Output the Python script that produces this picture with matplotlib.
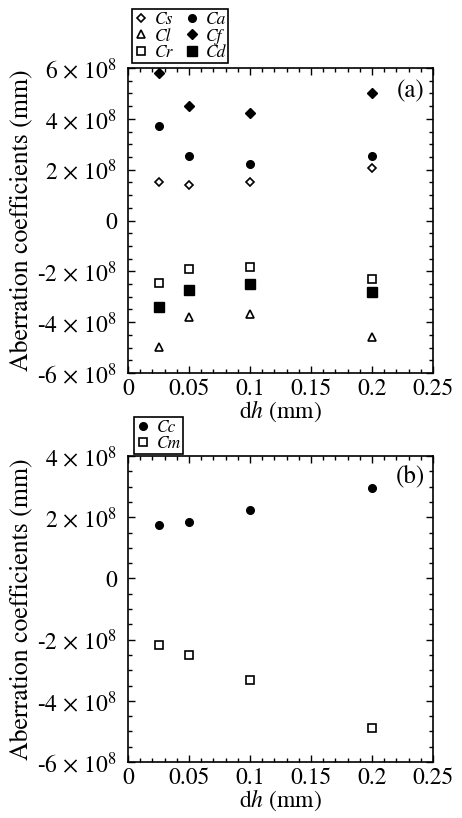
import matplotlib
matplotlib.use('Agg')
import matplotlib.pyplot as plt
from matplotlib.ticker import MultipleLocator, FuncFormatter

# Fonts: Times-like serif throughout (STIX ships with matplotlib)
plt.rcParams['font.family'] = 'serif'
plt.rcParams['font.serif'] = ['STIXGeneral', 'Liberation Serif', 'DejaVu Serif']
plt.rcParams['mathtext.fontset'] = 'stix'

# x positions (dh in mm)
dh = [0.025, 0.05, 0.1, 0.2]

# Panel (a) coefficients (units of 1e8 mm)
cs = [1.53, 1.40, 1.52, 2.07]
cl = [-4.97, -3.80, -3.68, -4.57]
cr = [-2.47, -1.91, -1.83, -2.29]
ca = [3.71, 2.54, 2.22, 2.55]
cf = [5.79, 4.52, 4.24, 5.03]
cd = [-3.41, -2.74, -2.49, -2.80]

# Panel (b) coefficients (units of 1e8 mm)
cc = [1.73, 1.84, 2.22, 2.95]
cm = [-2.17, -2.49, -3.31, -4.89]

fig = plt.figure(figsize=(4.62, 8.18), dpi=100)
W, H = 462.0, 818.0
ax1 = fig.add_axes([128 / W, 1 - 373 / H, 305 / W, 305 / H])
ax2 = fig.add_axes([128 / W, 1 - 762 / H, 305 / W, 306 / H])


def ytick_fmt(v, pos):
    n = int(round(v / 1e8))
    if n == 0:
        return '0'
    # plain hyphen like the original, mathtext only for the exponent
    return '%d \u00d7 10$^{8}$' % n


def style_axes(ax, ymin, ymax):
    ax.set_xlim(0, 0.25)
    ax.set_ylim(ymin, ymax)
    ax.xaxis.set_major_locator(MultipleLocator(0.05))
    ax.xaxis.set_minor_locator(MultipleLocator(0.01))
    ax.yaxis.set_major_locator(MultipleLocator(2e8))
    ax.yaxis.set_minor_locator(MultipleLocator(0.5e8))
    ax.xaxis.set_major_formatter(FuncFormatter(lambda v, p: '0' if v == 0 else ('%g' % round(v, 3))))
    ax.yaxis.set_major_formatter(FuncFormatter(ytick_fmt))
    ax.tick_params(which='both', direction='in', top=True, right=True, labelsize=17, width=1)
    ax.tick_params(which='major', length=5)
    ax.tick_params(which='minor', length=3)
    ax.tick_params(axis='x', pad=4)
    ax.tick_params(axis='y', pad=8)
    for s in ax.spines.values():
        s.set_linewidth(1.2)
    ax.set_xlabel(r'd$h$ (mm)', fontsize=17, labelpad=-1)
    ax.set_ylabel('Aberration coefficients (mm)', fontsize=18.5)
    ax.yaxis.set_label_coords(-0.31, 0.5)


def scaled(vals):
    return [v * 1e8 for v in vals]


# Panel (a)
ax1.plot(dh, scaled(cs), linestyle='none', marker='D', markersize=4.5, mfc='white', mec='black', mew=1.2, label='Cs')
ax1.plot(dh, scaled(cl), linestyle='none', marker='^', markersize=6, mfc='white', mec='black', mew=1.2, label='Cl')
ax1.plot(dh, scaled(cr), linestyle='none', marker='s', markersize=6, mfc='white', mec='black', mew=1.2, label='Cr')
ax1.plot(dh, scaled(ca), linestyle='none', marker='o', markersize=5.5, color='black', label='Ca')
ax1.plot(dh, scaled(cf), linestyle='none', marker='D', markersize=5, color='black', label='Cf')
ax1.plot(dh, scaled(cd), linestyle='none', marker='s', markersize=7, color='black', label='Cd')
style_axes(ax1, -6e8, 6e8)
ax1.text(0.925, 0.925, '(a)', transform=ax1.transAxes, fontsize=18, ha='center', va='center')
leg1 = ax1.legend(ncol=2, loc='lower left', bbox_to_anchor=(0.012, 1.015),
                  prop={'style': 'italic', 'size': 12.5}, frameon=True, fancybox=False,
                  edgecolor='black', framealpha=1, borderpad=0.12, labelspacing=0.0,
                  handletextpad=0.4, columnspacing=0.7, handlelength=0.8, borderaxespad=0)
leg1.get_frame().set_linewidth(1.2)

# Panel (b)
ax2.plot(dh, scaled(cc), linestyle='none', marker='o', markersize=5.5, color='black', label='Cc')
ax2.plot(dh, scaled(cm), linestyle='none', marker='s', markersize=6, mfc='white', mec='black', mew=1.2, label='Cm')
style_axes(ax2, -6e8, 4e8)
ax2.text(0.925, 0.935, '(b)', transform=ax2.transAxes, fontsize=18, ha='center', va='center')
leg2 = ax2.legend(ncol=1, loc='lower left', bbox_to_anchor=(0.02, 1.005),
                  prop={'style': 'italic', 'size': 12.5}, frameon=True, fancybox=False,
                  edgecolor='black', framealpha=1, borderpad=0.12, labelspacing=0.0,
                  handletextpad=0.4, handlelength=0.8, borderaxespad=0)
leg2.get_frame().set_linewidth(1.2)

fig.savefig('out.png', dpi=100)
